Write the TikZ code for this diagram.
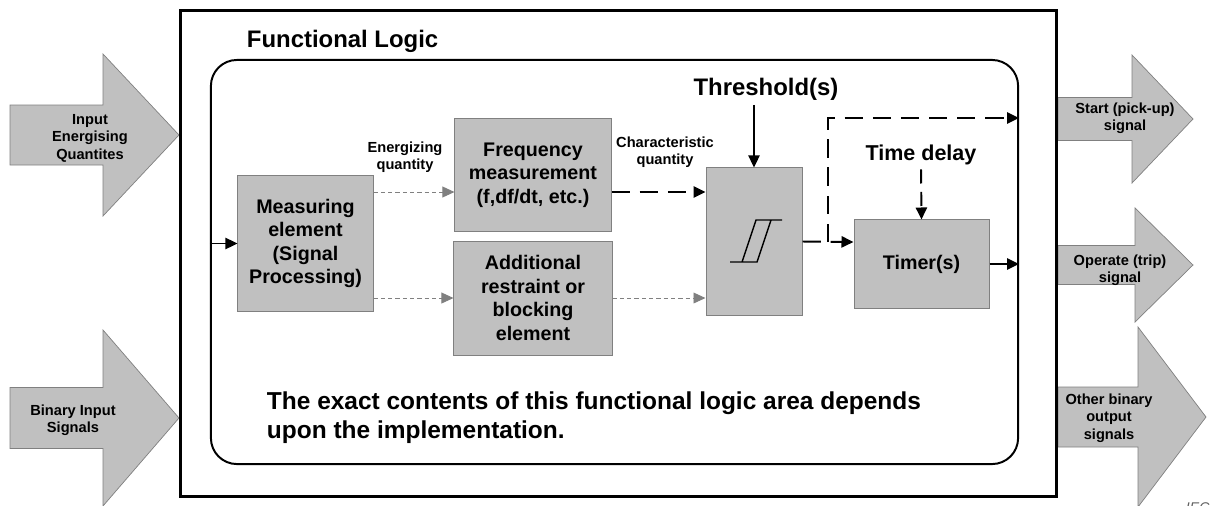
\documentclass[tikz,border=0pt]{standalone}
\usepackage{fontspec}
\setmainfont{Liberation Sans}
\usetikzlibrary{positioning,arrows.meta}
\definecolor{boxgray}{HTML}{C0C0C0}
\definecolor{edgegray}{HTML}{808080}
\definecolor{iecgray}{HTML}{606060}
\newcommand{\fatarrow}[6]{%
  \fill[boxgray,draw=edgegray,line width=0.5pt]
    (#1,#4-#5) -- (#2,#4-#5) -- (#2,#4-#6) -- (#3,#4) -- (#2,#4+#6) -- (#2,#4+#5) -- (#1,#4+#5) -- cycle;}
\begin{document}
\begin{tikzpicture}[x=0.025cm,y=-0.025cm,
  block/.style={fill=boxgray,draw=edgegray,line width=0.7pt,align=center,inner sep=2pt,
    font=\fontsize{14}{16.7}\bfseries\selectfont},
  small/.style={align=center,font=\fontsize{10.4}{12.4}\bfseries\selectfont},
  fatlabel/.style={align=center,font=\fontsize{10.4}{12.4}\bfseries\selectfont},
  big/.style={font=\fontsize{17}{20}\bfseries\selectfont},
  solidarr/.style={-{Triangle[length=0.3cm,width=0.28cm]},line width=1.2pt},
  thinarr/.style={-{Triangle[length=0.3cm,width=0.27cm]},draw=edgegray,line width=0.7pt,dash pattern=on 3pt off 2.2pt},
  longarr/.style={-{Triangle[length=0.3cm,width=0.28cm]},line width=1.4pt,dash pattern=on 13pt off 7pt}
]
\useasboundingbox (0,0) rectangle (1210,506);
\fatarrow{10}{103}{179}{135}{30}{81}
\fatarrow{10}{103}{179}{418}{30.5}{88}
\fatarrow{1058}{1132}{1193}{119}{21.5}{64}
\fatarrow{1058}{1135}{1193}{265}{19.5}{57}
\fatarrow{1058}{1138}{1206}{417}{30}{90}
\node[fatlabel] (inq) at (90,138) {Input\\Energising\\Quantites};
\node[fatlabel] (bin) at (73,420) {Binary Input\\Signals};
\node[fatlabel] (start) at (1125,118) {Start (pick-up)\\signal};
\node[fatlabel] (trip) at (1120,270) {Operate (trip)\\signal};
\node[fatlabel] (other) at (1109,418) {Other binary\\output\\signals};
\node[draw,line width=2.2pt,minimum width=21.9cm,minimum height=12.15cm] (frame) at (618.5,253.5) {};
\node[draw,line width=1.4pt,rounded corners=0.65cm,minimum width=20.175cm,minimum height=10.1cm] (logic) at (614.5,262) {};
\node[big,anchor=base west] (title) at (242,48) {Functional Logic};
\node[block,minimum width=3.375cm,minimum height=3.375cm] (meas) at (305.5,243.5) {Measuring\\element\\(Signal\\Processing)};
\node[block,minimum width=3.9cm,minimum height=2.8cm] (freq) at (533,175) {Frequency\\measurement\\(f,df/dt, etc.)};
\node[block,minimum width=3.95cm,minimum height=2.85cm,below=0.225cm of freq] (add) {Additional\\restraint or\\blocking\\element};
\node[block,minimum width=2.4cm,minimum height=3.675cm] (thr) at (754,241.5) {};
\node[block,minimum width=3.375cm,minimum height=2.2cm] (timer) at (921.5,264) {Timer(s)};
\node[small] (energ) at (405,157) {Energizing\\quantity};
\node[small] (charq) at (665,152) {Characteristic\\quantity};
\node[big,anchor=base] (thrlabel) at (766,95) {Threshold(s)};
\node[anchor=base,font=\fontsize{15.3}{18}\bfseries\selectfont] (delay) at (921,160) {Time delay};
\node[anchor=base west,align=left,font=\fontsize{17.4}{20}\bfseries\selectfont] (note) at (262,438)
  {The exact contents of this functional logic area depends\\upon the implementation.};
\node[anchor=north west,font=\fontsize{10}{12}\itshape\selectfont,text=iecgray] (iec) at (1181,498) {IEC};
\draw[line width=1pt,shift={(thr.center)}] (-24,20.5) -- (3,20.5) -- (17,-21.5) -- (28,-21.5)
  (-12,20.5) -- (2,-21.5) -- (17,-21.5);
\coordinate (inpt) at (logic.west |- meas.west);
\coordinate (tap) at (828,242);
\draw[solidarr] (inpt) -- (meas.west);
\draw[thinarr] ([yshift=-0.425cm]freq.west -| meas.east) -- ([yshift=-0.425cm]freq.west);
\draw[thinarr] (meas.east |- add.west) -- (add.west);
\draw[longarr] ([yshift=-0.425cm]freq.east) -- ([yshift=-0.425cm]freq.east -| thr.west);
\draw[thinarr] (add.east) -- (add.east -| thr.west);
\draw[solidarr] (thr.north |- thrlabel.south) -- (thr.north);
\draw[longarr] (thr.east) -- ([yshift=0.55cm]timer.west);
\draw[longarr] (tap) |- (logic.east |- start.west);
\draw[longarr,dash pattern=on 10pt off 6pt] (delay.south) -- (timer.north);
\draw[solidarr] (timer.east) -- (logic.east |- timer.east);
\end{tikzpicture}
\end{document}
